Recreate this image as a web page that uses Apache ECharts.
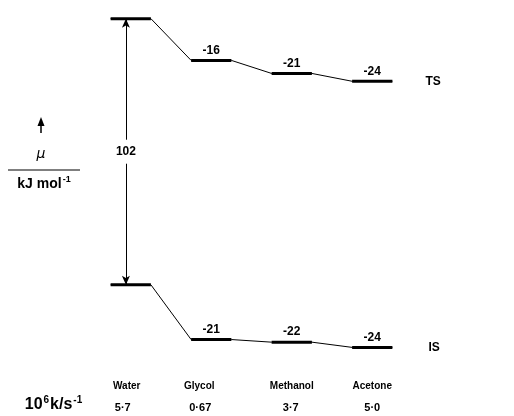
<!DOCTYPE html>
<html><head><meta charset="utf-8">
<script src="https://cdn.jsdelivr.net/npm/echarts@6/dist/echarts.min.js"></script>
<style>html,body{margin:0;padding:0;background:#fff}#c{width:514px;height:416px}</style>
</head><body><div id="c"></div>
<script>
const solvents = ['Water', 'Glycol', 'Methanol', 'Acetone'];
const rates = ['5·7', '0·67', '3·7', '5·0'];
const tsLevels = [102, 86, 81, 78];
const isLevels = [0, -21, -22, -24];
const stateNames = ['TS', 'IS'];
const gapValue = 102;

const HALF = 0.25;
const ARROW_X = -0.06;
const FONT = 'Liberation Sans';
// small horizontal nudges of the bottom labels (px of right padding)
const namePad = [8, 24, 0, 0];
const ratePad = [16, 22, 2, 0];

function pathPoints(levels) {
  const pts = [];
  levels.forEach((v, i) => { pts.push([i - HALF, v]); pts.push([i + HALF, v]); });
  return pts;
}
function levelLabelsOf(levels) {
  return levels.map((v, i) => i === 0 ? '' : String(v - levels[0]));
}
const levelLabels = { TSlev: levelLabelsOf(tsLevels), ISlev: levelLabelsOf(isLevels) };

const chart = echarts.init(document.getElementById('c'), null, { renderer: 'canvas' });

function renderLevel(params, api) {
  const i = api.value(0), v = api.value(1);
  const p1 = api.coord([i - HALF, v]);
  const p2 = api.coord([i + HALF, v]);
  const lab = levelLabels[params.seriesName][params.dataIndex];
  return {
    type: 'group',
    children: [
      { type: 'line', shape: { x1: p1[0], y1: p1[1], x2: p2[0], y2: p2[1] }, style: { stroke: '#000', lineWidth: 3 } },
      { type: 'text', style: { x: (p1[0] + p2[0]) / 2, y: p1[1] - 4, text: lab, textAlign: 'center', textVerticalAlign: 'bottom', font: 'bold 12px "' + FONT + '"', fill: '#000' } }
    ]
  };
}
function renderGap(params, api) {
  const p = api.coord([api.value(0), api.value(1)]);
  return {
    type: 'group',
    children: [
      { type: 'rect', shape: { x: p[0] - 12, y: p[1] - 12, width: 24, height: 24 }, style: { fill: '#fff' } },
      { type: 'text', style: { x: p[0], y: p[1], text: String(gapValue), textAlign: 'center', textVerticalAlign: 'middle', font: 'bold 12px "' + FONT + '"', fill: '#000' } }
    ]
  };
}

const rich = {};
solvents.forEach((s, i) => {
  rich['n' + i] = { fontFamily: FONT, fontSize: 10, fontWeight: 'bold', color: '#000', lineHeight: 22, padding: [0, namePad[i], 0, 0] };
  rich['r' + i] = { fontFamily: FONT, fontSize: 11, fontWeight: 'bold', color: '#000', lineHeight: 22, padding: [0, ratePad[i], 0, 0] };
});

chart.setOption({
  animation: false,
  backgroundColor: '#fff',
  grid: { left: 10, width: 483, top: 3, height: 407 },
  xAxis: {
    type: 'value', min: -1.5, max: 4.5, interval: 0.5,
    offset: -40,
    axisLine: { show: false }, axisTick: { show: false }, splitLine: { show: false },
    axisLabel: {
      margin: 5,
      formatter: function (val) {
        const i = Math.round(val);
        if (Math.abs(val - i) > 1e-6 || i < 0 || i >= solvents.length) return '';
        return '{n' + i + '|' + solvents[i] + '}\n{r' + i + '|' + rates[i] + '}';
      },
      rich: rich
    }
  },
  yAxis: { type: 'value', min: -48, max: 108, show: false, splitLine: { show: false } },
  series: [
    {
      type: 'line', name: 'TS', data: pathPoints(tsLevels), symbol: 'none', z: 2,
      lineStyle: { color: '#000', width: 1 },
      endLabel: { show: true, formatter: stateNames[0], distance: 33, color: '#000', fontFamily: FONT, fontWeight: 'bold', fontSize: 12 },
      markLine: {
        silent: true, symbol: ['arrow', 'arrow'], symbolSize: [6, 9],
        lineStyle: { color: '#000', width: 1, type: 'solid' },
        label: { show: false },
        data: [[{ coord: [ARROW_X, isLevels[0]] }, { coord: [ARROW_X, tsLevels[0]] }]]
      }
    },
    {
      type: 'line', name: 'IS', data: pathPoints(isLevels), symbol: 'none', z: 2,
      lineStyle: { color: '#000', width: 1 },
      endLabel: { show: true, formatter: stateNames[1], distance: 36, color: '#000', fontFamily: FONT, fontWeight: 'bold', fontSize: 12 }
    },
    { type: 'custom', name: 'TSlev', z: 3, data: tsLevels.map((v, i) => [i, v]), renderItem: renderLevel },
    { type: 'custom', name: 'ISlev', z: 3, data: isLevels.map((v, i) => [i, v]), renderItem: renderLevel },
    { type: 'custom', name: 'gap', z: 10, data: [[ARROW_X, (tsLevels[0] + isLevels[0]) / 2]], renderItem: renderGap }
  ],
  graphic: [
    { type: 'line', shape: { x1: 41, y1: 124, x2: 41, y2: 133 }, style: { stroke: '#000', lineWidth: 1.5 } },
    { type: 'polygon', shape: { points: [[41, 117], [37.5, 126], [44.5, 126]] }, style: { fill: '#000' } },
    { type: 'text', style: { x: 41, y: 154, text: 'μ', textAlign: 'center', textVerticalAlign: 'middle', font: 'italic 14px "DejaVu Sans"', fill: '#000' } },
    { type: 'line', shape: { x1: 8, y1: 170, x2: 80, y2: 170 }, style: { stroke: '#000', lineWidth: 1.2 } },
    { type: 'text', style: { x: 44, y: 184, text: '{a|kJ mol}{s|-1}', textAlign: 'center', textVerticalAlign: 'middle',
      rich: { a: { fontFamily: FONT, fontWeight: 'bold', fontSize: 14, fill: '#000' }, s: { fontFamily: FONT, fontWeight: 'bold', fontSize: 9, fill: '#000', padding: [0, 0, 9, 1] } } } },
    { type: 'text', style: { x: 54, y: 405, text: '{a|10}{s|6}{a|k/s}{s|-1}', textAlign: 'center', textVerticalAlign: 'middle',
      rich: { a: { fontFamily: FONT, fontWeight: 'bold', fontSize: 16, fill: '#000' }, s: { fontFamily: FONT, fontWeight: 'bold', fontSize: 10, fill: '#000', padding: [0, 1, 10, 1] } } } }
  ]
});
</script>
</body></html>
